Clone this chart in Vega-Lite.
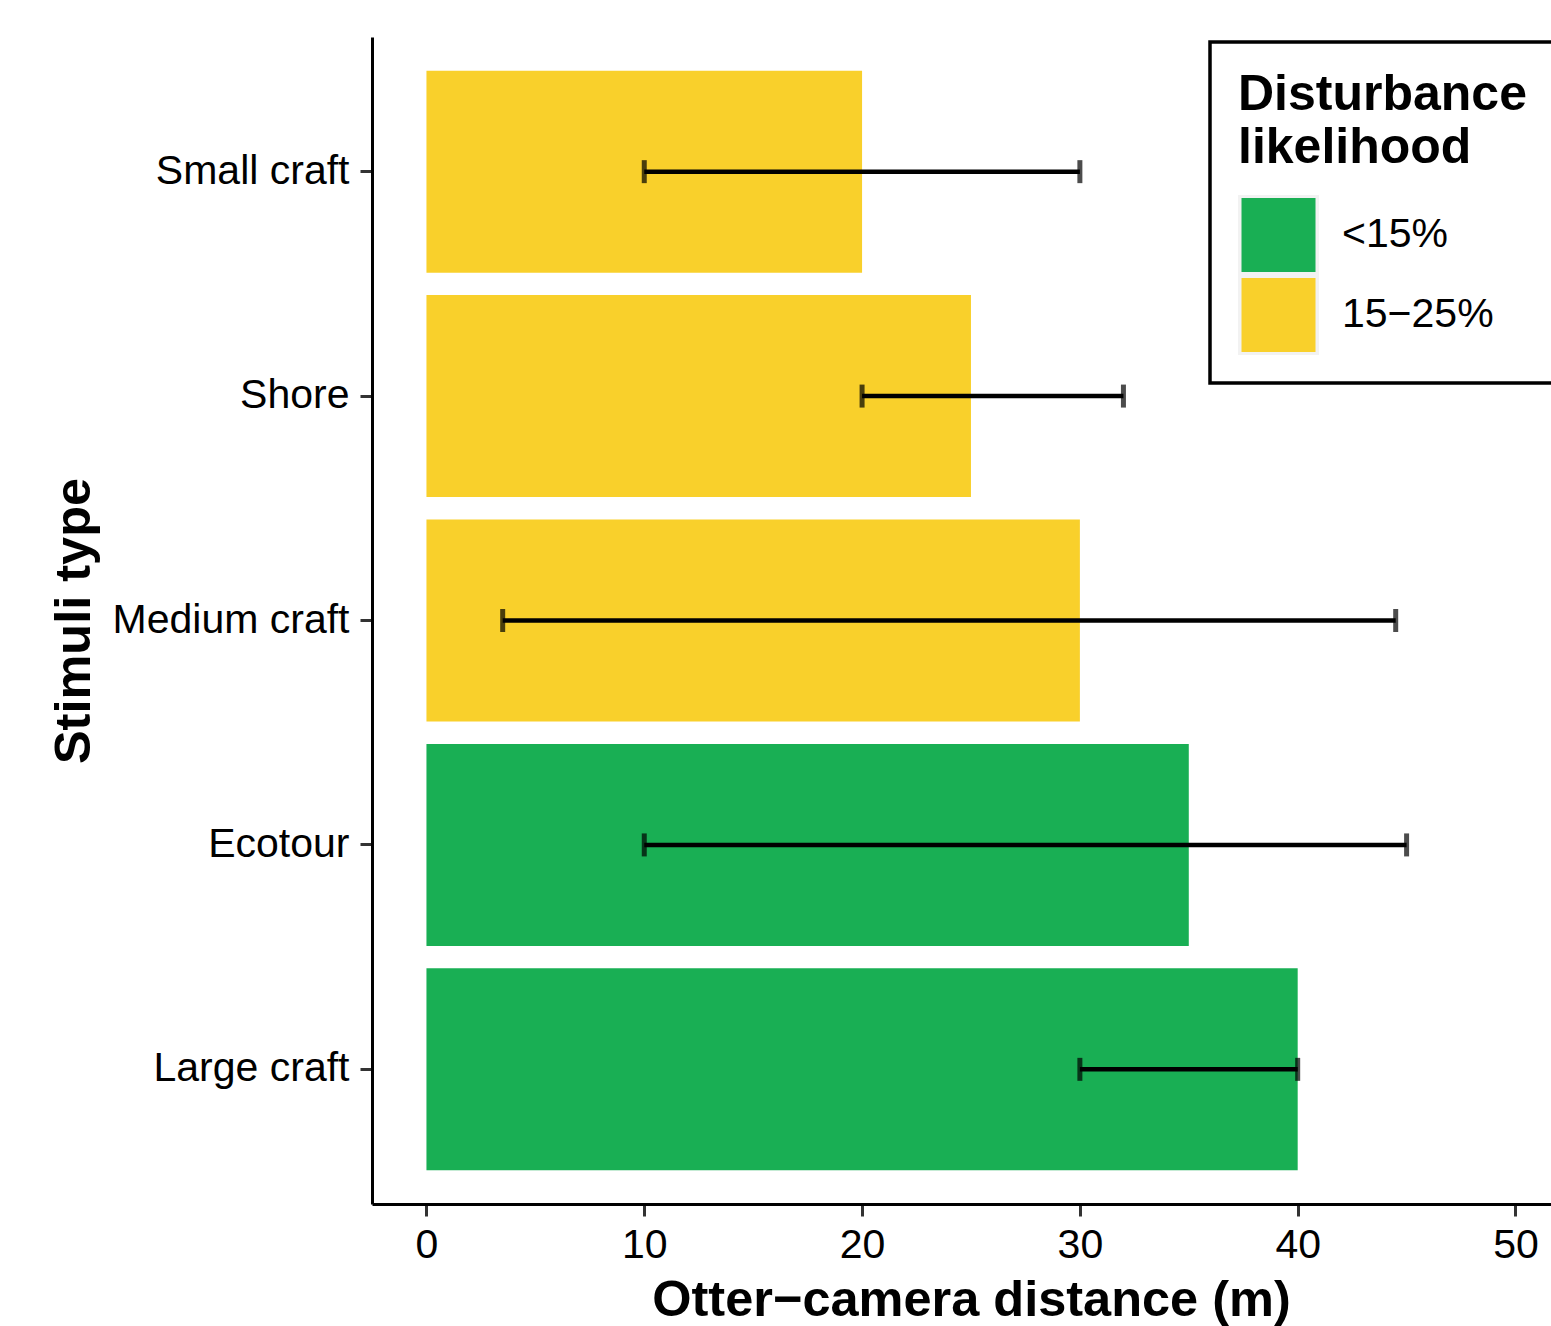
{
  "$schema": "https://vega.github.io/schema/vega-lite/v6.json",
  "width": 1179,
  "height": 1167,
  "autosize": {"type": "none"},
  "padding": {"left": 372, "top": 37, "right": 0, "bottom": 122},
  "background": "white",
  "config": {
    "font": "Liberation Sans",
    "view": {"stroke": null},
    "legend": {"strokeWidth": 3.5},
    "axisX": {
      "domainColor": "black", "domainWidth": 3, "tickColor": "#333333", "tickWidth": 3, "tickSize": 12,
      "labelFontSize": 41, "labelColor": "black", "labelPadding": 9, "grid": false,
      "titleFontSize": 50.5, "titleFontWeight": "bold", "titleColor": "black",
      "titleX": 599, "titleY": 111, "titleBaseline": "alphabetic", "titleAlign": "center", "titleLimit": 0
    },
    "axisY": {
      "domainColor": "black", "domainWidth": 3, "tickColor": "#333333", "tickWidth": 3, "tickSize": 12,
      "labelFontSize": 41, "labelColor": "black", "labelPadding": 11, "labelLimit": 0, "grid": false,
      "titleFontSize": 50.5, "titleFontWeight": "bold", "titleColor": "black",
      "titleX": -283, "titleY": 583.5, "titleBaseline": "alphabetic", "titleAlign": "center", "titleAngle": 270, "titleLimit": 0
    }
  },
  "data": {
    "values": [
      {"stimuli": "Small craft", "distance": 20, "lo": 10, "hi": 30, "likelihood": "15−25%"},
      {"stimuli": "Shore", "distance": 25, "lo": 20, "hi": 32, "likelihood": "15−25%"},
      {"stimuli": "Medium craft", "distance": 30, "lo": 3.5, "hi": 44.5, "likelihood": "15−25%"},
      {"stimuli": "Ecotour", "distance": 35, "lo": 10, "hi": 45, "likelihood": "<15%"},
      {"stimuli": "Large craft", "distance": 40, "lo": 30, "hi": 40, "likelihood": "<15%"}
    ]
  },
  "encoding": {
    "y": {
      "field": "stimuli", "type": "nominal", "title": "Stimuli type",
      "scale": {"domain": ["Small craft", "Shore", "Medium craft", "Ecotour", "Large craft"], "paddingInner": 0.1, "paddingOuter": 0.15}
    }
  },
  "layer": [
    {
      "mark": {"type": "bar"},
      "encoding": {
        "x": {
          "field": "distance", "type": "quantitative", "title": "Otter−camera distance (m)",
          "scale": {"domain": [-2.5, 51.63], "nice": false, "zero": false},
          "axis": {"values": [0, 10, 20, 30, 40, 50]}
        },
        "color": {
          "field": "likelihood", "type": "nominal",
          "scale": {"domain": ["<15%", "15−25%"], "range": ["#19AF54", "#F9D02B"]},
          "legend": {
            "title": ["Disturbance", "likelihood"], "orient": "none", "legendX": 838, "legendY": 5,
            "strokeColor": "black", "fillColor": "white", "padding": 28,
            "titleFontSize": 50, "titleFontWeight": "bold", "titleColor": "black", "titleLineHeight": 53, "titlePadding": 22, "titleLimit": 0,
            "labelFontSize": 41, "labelColor": "black", "labelOffset": 23, "labelLimit": 0,
            "symbolType": "square", "symbolSize": 6006, "symbolStrokeColor": "#F2F2F2", "symbolStrokeWidth": 3.5,
            "symbolOpacity": 1, "rowPadding": 0, "clipHeight": 80
          }
        }
      }
    },
    {
      "mark": {"type": "rule", "color": "black", "strokeWidth": 4.5},
      "encoding": {
        "x": {"field": "lo", "type": "quantitative", "title": "Otter−camera distance (m)", "scale": {"domain": [-2.5, 51.63], "nice": false, "zero": false}},
        "x2": {"field": "hi"}
      }
    },
    {
      "mark": {"type": "tick", "color": "black", "thickness": 5, "size": 23},
      "encoding": {
        "x": {"field": "lo", "type": "quantitative", "title": "Otter−camera distance (m)", "scale": {"domain": [-2.5, 51.63], "nice": false, "zero": false}}
      }
    },
    {
      "mark": {"type": "tick", "color": "black", "thickness": 5, "size": 23},
      "encoding": {
        "x": {"field": "hi", "type": "quantitative", "title": "Otter−camera distance (m)", "scale": {"domain": [-2.5, 51.63], "nice": false, "zero": false}}
      }
    }
  ]
}
